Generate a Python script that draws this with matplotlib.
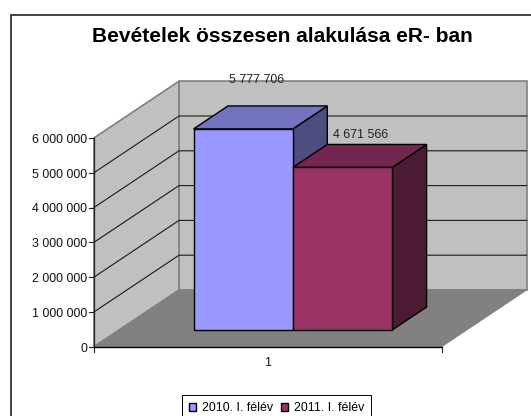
import matplotlib
matplotlib.use("Agg")
import matplotlib.pyplot as plt
from matplotlib.patches import Polygon, Rectangle, Patch

plt.rcParams['font.family'] = ['Liberation Sans', 'DejaVu Sans']

# ---- data ----
title = "Bevételek összesen alakulása eR- ban"
series_names = ["2010. I. félév", "2011. I. félév"]
values = [5777706, 4671566]
value_labels = ["5 777 706", "4 671 566"]
tick_values = [0, 1000000, 2000000, 3000000, 4000000, 5000000, 6000000]
tick_labels = ["0", "1 000 000", "2 000 000", "3 000 000", "4 000 000", "5 000 000", "6 000 000"]
category_label = "1"
front_colors = ["#9999FF", "#993366"]
top_colors = ["#7373BF", "#732650"]
side_colors = ["#4D4D80", "#4D1A33"]

# ---- projection: pixel geometry of the 3-D box ----
X0, Y0 = 94.0, 346.7        # front-left floor corner
PX_PER_UNIT = 208.8 / 6e6   # vertical scale
FLOOR_W = 347.5
DEPTH_X, DEPTH_Y = 85.0, 56.7
BAR_LEFT, BAR_W = 74.5 / FLOOR_W, 99.3 / FLOOR_W   # fractions of floor width
BAR_D0, BAR_D1 = 0.295, 0.70  # depth fractions


def P(u, v, d):
    """u = floor fraction, v = data value, d = depth fraction."""
    return (X0 + u * FLOOR_W + d * DEPTH_X,
            Y0 - v * PX_PER_UNIT - d * DEPTH_Y)


fig = plt.figure(figsize=(5.31, 4.16), dpi=100, facecolor="white")
ax = fig.add_axes([0, 0, 1, 1])
ax.set_xlim(0, 531)
ax.set_ylim(416, 0)
ax.axis("off")

# chart-area border (runs off the canvas at right and bottom)
ax.add_patch(Rectangle((11, 15), 540, 430, fc="white", ec="#404040", lw=1.4, zorder=0))

# walls and floor
vmax = tick_values[-1]
wall_edge = "#808080"
ax.add_patch(Polygon([P(0, 0, 1), P(1, 0, 1), P(1, vmax, 1), P(0, vmax, 1)],
                     fc="#C0C0C0", ec=wall_edge, lw=1.2, zorder=1))
ax.add_patch(Polygon([P(0, 0, 0), P(0, 0, 1), P(0, vmax, 1), P(0, vmax, 0)],
                     fc="#C0C0C0", ec=wall_edge, lw=1.2, zorder=1))
ax.add_patch(Polygon([P(0, 0, 0), P(1, 0, 0), P(1, 0, 1), P(0, 0, 1)],
                     fc="#808080", ec=wall_edge, lw=0.8, zorder=1))

# gridlines
for t in tick_values[1:-1]:
    xs, ys = zip(P(0, t, 0), P(0, t, 1), P(1, t, 1))
    ax.plot(xs, ys, color="#1a1a1a", lw=0.8, zorder=2)

# axes lines, ticks, tick labels
xs, ys = zip(P(0, 0, 0), P(0, vmax, 0))
ax.plot(xs, ys, color="#222222", lw=0.9, zorder=3)
xs, ys = zip(P(0, 0, 0), P(1, 0, 0))
ax.plot(xs, ys, color="black", lw=1.0, zorder=3)
for t, lab in zip(tick_values, tick_labels):
    x, y = P(0, t, 0)
    ax.plot([x - 5, x], [y, y], color="#222222", lw=0.8, zorder=3)
    ax.text(x - 6.5, y + 2.0, lab, ha="right", va="center", fontsize=8.9, color="#111111")
for u in (0, 1):
    x, y = P(u, 0, 0)
    ax.plot([x, x], [y, y + 5], color="#222222", lw=0.8, zorder=3)
x, y = P(0.5, 0, 0)
ax.text(x - 0.5, y + 16, category_label, ha="center", va="center", fontsize=8.9, color="#111111")

# bars
for i, val in enumerate(values):
    u0 = BAR_LEFT + i * BAR_W
    u1 = u0 + BAR_W
    kw = dict(ec="black", lw=1.0, joinstyle="miter", zorder=4 + i)
    ax.add_patch(Polygon([P(u1, 0, BAR_D0), P(u1, 0, BAR_D1), P(u1, val, BAR_D1), P(u1, val, BAR_D0)],
                         fc=side_colors[i], **kw))
    ax.add_patch(Polygon([P(u0, val, BAR_D0), P(u1, val, BAR_D0), P(u1, val, BAR_D1), P(u0, val, BAR_D1)],
                         fc=top_colors[i], **kw))
    ax.add_patch(Polygon([P(u0, 0, BAR_D0), P(u1, 0, BAR_D0), P(u1, val, BAR_D0), P(u0, val, BAR_D0)],
                         fc=front_colors[i], **kw))
    xl, yl = P(u0 + BAR_W * 0.5, val, BAR_D1)
    ax.text(xl - 21 + 5 * i, yl - 25.5 + 16.5 * i, value_labels[i], ha="center", va="center",
            fontsize=8.9, color="#222222", zorder=8)

# title
ax.text(282, 36.5, title, ha="center", va="center", fontsize=15, fontweight="bold", color="black")

# legend (box runs off the bottom of the canvas)
handles = [Patch(fc=c, ec="black", lw=1.0) for c in front_colors]
leg = ax.legend(handles, series_names, ncol=2, loc="upper left",
                bbox_to_anchor=(182, 395), bbox_transform=ax.transData,
                fontsize=8.9, frameon=True, fancybox=False, framealpha=1,
                edgecolor="black", borderpad=0.6, borderaxespad=0,
                handlelength=0.55, handleheight=0.55, handletextpad=0.46, columnspacing=0.65)
leg.get_frame().set_linewidth(0.7)
leg.set_zorder(9)

fig.savefig("out.png", dpi=100, facecolor="white")
